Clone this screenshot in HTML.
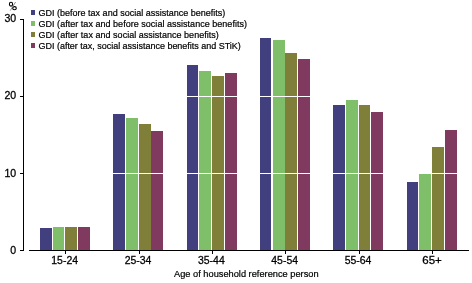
<!DOCTYPE html>
<html><head><meta charset="utf-8"><style>
html,body{margin:0;padding:0;background:#fff;width:472px;height:283px;overflow:hidden}
svg{display:block}
text{}
text{font-family:"Liberation Sans",sans-serif;fill:#000;stroke:#000;stroke-width:0.2px}
.tl{font-size:11.5px;stroke-width:0.3px}
.lg{font-size:9px}
.ti{font-size:9.35px}
</style></head><body>
<svg style="will-change:transform" shape-rendering="crispEdges" width="472" height="283" viewBox="0 0 472 283">
<rect width="472" height="283" fill="#fff"/>
<rect x="40" y="228" width="12" height="22" fill="#423f7e"/>
<rect x="53" y="227" width="11" height="23" fill="#80bf6a"/>
<rect x="65" y="227" width="12" height="23" fill="#807f3a"/>
<rect x="78" y="227" width="12" height="23" fill="#803a5f"/>
<rect x="113" y="114" width="12" height="136" fill="#423f7e"/>
<rect x="126" y="118" width="12" height="132" fill="#80bf6a"/>
<rect x="139" y="124" width="12" height="126" fill="#807f3a"/>
<rect x="151" y="131" width="12" height="119" fill="#803a5f"/>
<rect x="187" y="65" width="11" height="185" fill="#423f7e"/>
<rect x="199" y="71" width="12" height="179" fill="#80bf6a"/>
<rect x="212" y="76" width="12" height="174" fill="#807f3a"/>
<rect x="225" y="73" width="12" height="177" fill="#803a5f"/>
<rect x="260" y="38" width="11" height="212" fill="#423f7e"/>
<rect x="273" y="40" width="12" height="210" fill="#80bf6a"/>
<rect x="285" y="53" width="12" height="197" fill="#807f3a"/>
<rect x="298" y="59" width="12" height="191" fill="#803a5f"/>
<rect x="333" y="105" width="12" height="145" fill="#423f7e"/>
<rect x="346" y="100" width="12" height="150" fill="#80bf6a"/>
<rect x="359" y="105" width="11" height="145" fill="#807f3a"/>
<rect x="371" y="112" width="12" height="138" fill="#803a5f"/>
<rect x="407" y="182" width="11" height="68" fill="#423f7e"/>
<rect x="419" y="174" width="12" height="76" fill="#80bf6a"/>
<rect x="432" y="147" width="12" height="103" fill="#807f3a"/>
<rect x="445" y="130" width="12" height="120" fill="#803a5f"/>
<line x1="29" y1="96.5" x2="469" y2="96.5" stroke="#fff" stroke-width="1"/>
<line x1="29" y1="173.5" x2="469" y2="173.5" stroke="#fff" stroke-width="1"/>
<line x1="23.5" y1="19" x2="23.5" y2="251" stroke="#000" stroke-width="1"/>
<line x1="20" y1="19.5" x2="23" y2="19.5" stroke="#000" stroke-width="1"/>
<text transform="translate(16.2,22) scale(0.92,1)" text-anchor="end" class="tl">30</text>
<line x1="20" y1="96.5" x2="23" y2="96.5" stroke="#000" stroke-width="1"/>
<text transform="translate(16.2,99) scale(0.92,1)" text-anchor="end" class="tl">20</text>
<line x1="20" y1="173.5" x2="23" y2="173.5" stroke="#000" stroke-width="1"/>
<text transform="translate(16.2,177) scale(0.92,1)" text-anchor="end" class="tl">10</text>
<line x1="20" y1="250.5" x2="23" y2="250.5" stroke="#000" stroke-width="1"/>
<text transform="translate(16.2,254) scale(0.92,1)" text-anchor="end" class="tl">0</text>
<line x1="29" y1="250.5" x2="469" y2="250.5" stroke="#000" stroke-width="1"/>
<line x1="65.67" y1="250" x2="65.67" y2="254" stroke="#000" stroke-width="1"/>
<text transform="translate(64.67,264) scale(0.91,1)" text-anchor="middle" class="tl">15-24</text>
<line x1="139.00" y1="250" x2="139.00" y2="254" stroke="#000" stroke-width="1"/>
<text transform="translate(138.00,264) scale(0.91,1)" text-anchor="middle" class="tl">25-34</text>
<line x1="212.33" y1="250" x2="212.33" y2="254" stroke="#000" stroke-width="1"/>
<text transform="translate(211.33,264) scale(0.91,1)" text-anchor="middle" class="tl">35-44</text>
<line x1="285.67" y1="250" x2="285.67" y2="254" stroke="#000" stroke-width="1"/>
<text transform="translate(284.67,264) scale(0.91,1)" text-anchor="middle" class="tl">45-54</text>
<line x1="359.00" y1="250" x2="359.00" y2="254" stroke="#000" stroke-width="1"/>
<text transform="translate(358.00,264) scale(0.91,1)" text-anchor="middle" class="tl">55-64</text>
<line x1="432.33" y1="250" x2="432.33" y2="254" stroke="#000" stroke-width="1"/>
<text transform="translate(432.03,264) scale(1.0,1)" text-anchor="middle" class="tl">65+</text>
<g fill="none" stroke="#000" shape-rendering="geometricPrecision"><ellipse cx="11" cy="4.2" rx="1.6" ry="1.9" stroke-width="1.1"/><ellipse cx="14.5" cy="8.2" rx="1.8" ry="1.6" stroke-width="1.1"/><line x1="15.6" y1="2" x2="10.2" y2="10.6" stroke-width="0.6" stroke="#444"/></g>
<rect x="31" y="10" width="4" height="5" fill="#423f7e"/>
<text x="38.5" y="16.30" class="lg" textLength="186.8" lengthAdjust="spacing">GDI (before tax and social assistance benefits)</text>
<rect x="31" y="21" width="4" height="5" fill="#80bf6a"/>
<text x="38.5" y="27.10" class="lg" textLength="208.5" lengthAdjust="spacing">GDI (after tax and before social assistance benefits)</text>
<rect x="31" y="32" width="4" height="5" fill="#807f3a"/>
<text x="38.5" y="37.90" class="lg" textLength="180.3" lengthAdjust="spacing">GDI (after tax and social assistance benefits)</text>
<rect x="31" y="43" width="4" height="5" fill="#803a5f"/>
<text x="38.5" y="48.70" class="lg" textLength="202.3" lengthAdjust="spacing">GDI (after tax, social assistance benefits and STiK)</text>
<text x="246.3" y="277.3" text-anchor="middle" class="ti" textLength="144.5" lengthAdjust="spacingAndGlyphs">Age of household reference person</text>
</svg>
</body></html>
